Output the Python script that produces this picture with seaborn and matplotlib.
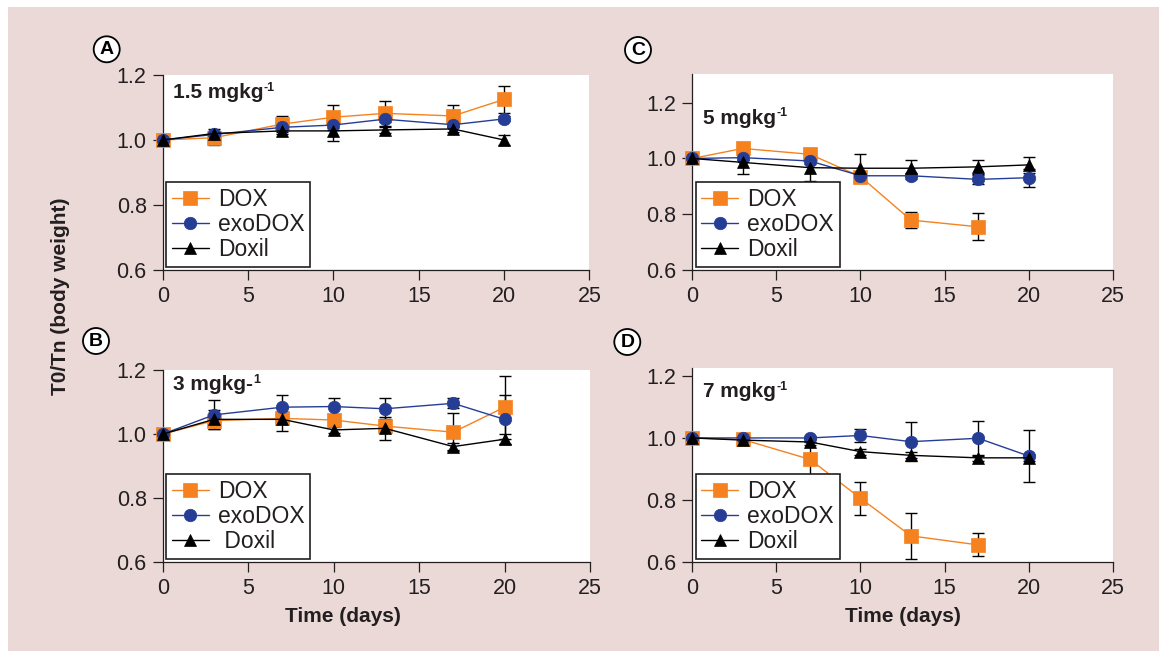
import matplotlib
matplotlib.use("Agg")
import matplotlib.pyplot as plt
from matplotlib.patches import Rectangle, Circle
import seaborn as sns
import pandas as pd

# ---------------- data ----------------
days = [0, 3, 7, 10, 13, 17, 20]
days_short = [0, 3, 7, 10, 13, 17]

# Panel A: 1.5 mg/kg
dox_A = [1.00, 1.007, 1.049, 1.070, 1.082, 1.074, 1.125]
dox_A_err = [0.0, 0.022, 0.025, 0.039, 0.039, 0.033, 0.041]
exo_A = [1.00, 1.017, 1.039, 1.046, 1.064, 1.047, 1.065]
exo_A_err = [0.0, 0.008, 0.008, 0.008, 0.008, 0.008, 0.008]
doxil_A = [1.00, 1.020, 1.028, 1.028, 1.031, 1.034, 1.000]
doxil_A_err = [0.0, 0.015, 0.010, 0.030, 0.010, 0.010, 0.015]

# Panel B: 3 mg/kg
dox_B = [1.00, 1.042, 1.049, 1.044, 1.025, 1.006, 1.084]
dox_B_err = [0.0, 0.010, 0.010, 0.010, 0.010, 0.060, 0.098]
exo_B = [1.00, 1.060, 1.084, 1.086, 1.079, 1.096, 1.046]
exo_B_err = [0.0, 0.045, 0.038, 0.026, 0.033, 0.016, 0.076]
doxil_B = [1.00, 1.046, 1.046, 1.013, 1.018, 0.961, 0.984]
doxil_B_err = [0.0, 0.030, 0.035, 0.010, 0.035, 0.010, 0.015]

# Panel C: 5 mg/kg
dox_C = [1.00, 1.036, 1.015, 0.935, 0.779, 0.755]
dox_C_err = [0.0, 0.010, 0.010, 0.010, 0.028, 0.048]
exo_C = [1.00, 1.003, 0.991, 0.938, 0.938, 0.925, 0.931]
exo_C_err = [0.0, 0.010, 0.010, 0.010, 0.010, 0.017, 0.032]
doxil_C = [1.00, 0.986, 0.967, 0.965, 0.965, 0.970, 0.977]
doxil_C_err = [0.0, 0.040, 0.048, 0.050, 0.030, 0.025, 0.028]

# Panel D: 7 mg/kg
dox_D = [1.00, 0.995, 0.931, 0.806, 0.685, 0.656]
dox_D_err = [0.0, 0.010, 0.057, 0.053, 0.073, 0.037]
exo_D = [1.00, 1.00, 1.00, 1.008, 0.988, 0.999, 0.942]
exo_D_err = [0.0, 0.005, 0.005, 0.020, 0.062, 0.057, 0.083]
doxil_D = [1.00, 0.993, 0.987, 0.956, 0.944, 0.936, 0.936]
doxil_D_err = [0.0, 0.010, 0.010, 0.010, 0.010, 0.010, 0.010]

series_names = ["DOX", "exoDOX", "Doxil"]
panel_letters = ["A", "B", "C", "D"]
dose_main = ["1.5 mgkg", "3 mgkg-", "5 mgkg", "7 mgkg"]
dose_sup = ["-1", "1", "-1", "-1"]
legend_labels = [["DOX", "exoDOX", "Doxil"], ["DOX", "exoDOX", " Doxil"],
                 ["DOX", "exoDOX", "Doxil"], ["DOX", "exoDOX", "Doxil"]]
x_ticks = [0, 5, 10, 15, 20, 25]
y_ticks = [0.6, 0.8, 1.0, 1.2]
y_tick_labels = ["0.6", "0.8", "1.0", "1.2"]
xlabel_text = "Time (days)"
ylabel_text = "T0/Tn (body weight)"

# ---------------- style ----------------
sns.set_theme(style="ticks")
plt.rcParams["font.family"] = ["Liberation Sans", "DejaVu Sans"]

TXT = "#231F20"
ORANGE = "#F5821F"
BLUE = "#263D96"
palette = {"DOX": ORANGE, "exoDOX": BLUE, "Doxil": "#000000"}
markers = {"DOX": "s", "exoDOX": "o", "Doxil": "^"}
msizes = {"DOX": 10, "exoDOX": 9, "Doxil": 9}

W, H = 1159, 651
fig = plt.figure(figsize=(W / 100, H / 100), dpi=100, facecolor="white")
fig.patches.append(Rectangle((8 / W, 0), 1 - 8 / W, 1 - 7 / H, transform=fig.transFigure,
                             facecolor="#EBD9D8", edgecolor="none", zorder=-10))
renderer = fig.canvas.get_renderer()

def px_rect(left, top, right, bottom):
    return [left / W, 1 - bottom / H, (right - left) / W, (bottom - top) / H]

panels = [
    dict(rect=px_rect(162.7, 75, 589.5, 270), ylim=(0.6, 1.2),
         dox=dox_A, dox_err=dox_A_err, dox_days=days,
         exo=exo_A, exo_err=exo_A_err, doxil=doxil_A, doxil_err=doxil_A_err,
         circle=(106.7, 49.3), dose_xy=(173, 93), xlabel=None),
    dict(rect=px_rect(162.7, 370, 590, 562.3), ylim=(0.6, 1.2),
         dox=dox_B, dox_err=dox_B_err, dox_days=days,
         exo=exo_B, exo_err=exo_B_err, doxil=doxil_B, doxil_err=doxil_B_err,
         circle=(96, 341), dose_xy=(173, 385), xlabel=(343, 617)),
    dict(rect=px_rect(692.3, 74, 1112.7, 270), ylim=(0.6, 1.303),
         dox=dox_C, dox_err=dox_C_err, dox_days=days_short,
         exo=exo_C, exo_err=exo_C_err, doxil=doxil_C, doxil_err=doxil_C_err,
         circle=(638, 50), dose_xy=(702.7, 118), xlabel=None),
    dict(rect=px_rect(692.3, 368.3, 1112.7, 562.3), ylim=(0.6, 1.224),
         dox=dox_D, dox_err=dox_D_err, dox_days=days_short,
         exo=exo_D, exo_err=exo_D_err, doxil=doxil_D, doxil_err=doxil_D_err,
         circle=(627.3, 342), dose_xy=(702.7, 391.7), xlabel=(903, 617)),
]

for i, p in enumerate(panels):
    ax = fig.add_axes(p["rect"])
    ax.set_facecolor("white")
    frames = [
        pd.DataFrame({"day": p["dox_days"], "value": p["dox"], "err": p["dox_err"], "series": "DOX"}),
        pd.DataFrame({"day": days, "value": p["exo"], "err": p["exo_err"], "series": "exoDOX"}),
        pd.DataFrame({"day": days, "value": p["doxil"], "err": p["doxil_err"], "series": "Doxil"}),
    ]
    df = pd.concat(frames, ignore_index=True)

    # error bars (black), beneath markers
    for name in series_names:
        sub = df[df["series"] == name]
        ax.errorbar(sub["day"], sub["value"], yerr=sub["err"], fmt="none",
                    ecolor="black", elinewidth=1.0, capsize=4.5, capthick=1.0,
                    zorder=2, clip_on=False)

    handles = []
    for k, name in enumerate(series_names):
        sub = df[df["series"] == name]
        sns.lineplot(data=sub, x="day", y="value", ax=ax, color=palette[name],
                     marker=markers[name], markersize=msizes[name],
                     markeredgecolor=palette[name], markeredgewidth=0.5,
                     linewidth=1.0, errorbar=None, legend=False, zorder=3 + k)
        line = ax.lines[-1]
        line.set_clip_on(False)
        handles.append(line)

    ax.set_xlim(0, 25)
    ax.set_ylim(*p["ylim"])
    ax.set_xticks(x_ticks)
    ax.set_xticklabels([str(t) for t in x_ticks])
    ax.set_yticks(y_ticks)
    ax.set_yticklabels(y_tick_labels)
    ax.tick_params(axis="both", direction="out", length=7.5, width=0.9,
                   color=TXT, labelcolor=TXT, labelsize=15.5, pad=4)
    for s in ["top", "right"]:
        ax.spines[s].set_visible(False)
    for s in ["left", "bottom"]:
        ax.spines[s].set_color(TXT)
        ax.spines[s].set_linewidth(0.9)
    ax.set_xlabel("")
    ax.set_ylabel("")

    leg = ax.legend(handles, legend_labels[i], loc="lower left",
                    bbox_to_anchor=(0.008, 0.016), borderaxespad=0,
                    frameon=True, fancybox=False, framealpha=1,
                    edgecolor="#231F20", facecolor="white", fontsize=16.5,
                    handlelength=1.6, handletextpad=0.4, labelspacing=0.1,
                    borderpad=0.25, labelcolor=TXT)
    leg.get_frame().set_linewidth(1.2)
    leg.set_zorder(10)

    dx, dy = p["dose_xy"]
    t_main = fig.text(dx / W, 1 - dy / H, dose_main[i], fontsize=15, fontweight="bold",
                      color=TXT, ha="left", va="center")
    bb = t_main.get_window_extent(renderer=renderer)
    fig.text((bb.x1 + 0.5) / W, 1 - (dy - 5) / H, dose_sup[i], fontsize=9,
             fontweight="bold", color=TXT, ha="left", va="center")

    cx, cy = p["circle"]
    fig.patches.append(Circle((cx / 100, (H - cy) / 100), 0.13,
                              transform=fig.dpi_scale_trans, facecolor="white",
                              edgecolor="black", linewidth=1.3, zorder=5))
    fig.text(cx / W, 1 - (cy + 0.5) / H, panel_letters[i], fontsize=14, fontweight="bold",
             color="black", ha="center", va="center", zorder=6)

    if p["xlabel"] is not None:
        lx, ly = p["xlabel"]
        fig.text(lx / W, 1 - ly / H, xlabel_text, fontsize=15, fontweight="bold",
                 color=TXT, ha="center", va="center")

fig.text(61 / W, 1 - 296 / H, ylabel_text, fontsize=15, fontweight="bold",
         color=TXT, rotation=90, ha="center", va="center")

fig.savefig("out.png", dpi=100, facecolor=fig.get_facecolor())
